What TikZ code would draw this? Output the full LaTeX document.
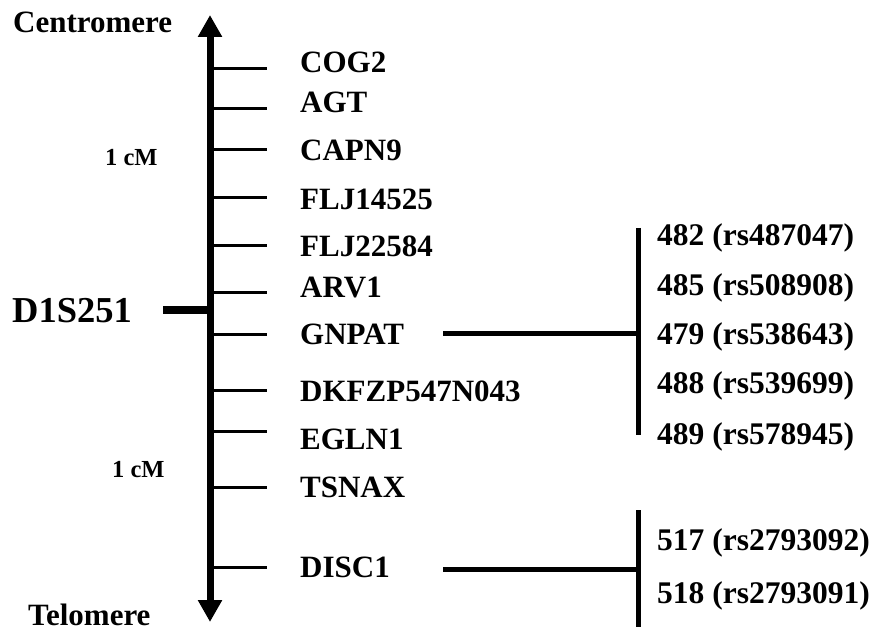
\documentclass[tikz,border=0pt]{standalone}
\usepackage{fontspec}
\setmainfont{Liberation Serif}
\usetikzlibrary{arrows.meta}
\begin{document}
\begin{tikzpicture}[x=1pt,y=-1pt,
  gene/.style={font=\fontsize{31}{31}\selectfont\bfseries, inner sep=0pt, anchor=west, text height=20.5pt, text depth=0pt},
  snp/.style={font=\fontsize{31.5}{31.5}\selectfont\bfseries, inner sep=0pt, anchor=west, text height=20.5pt, text depth=0pt},
  endlbl/.style={font=\fontsize{31}{31}\selectfont\bfseries, inner sep=0pt, anchor=west, text height=20.5pt, text depth=0pt},
  cmlbl/.style={font=\fontsize{24.5}{24.5}\selectfont\bfseries, inner sep=0pt, anchor=west, text height=16.5pt, text depth=0pt},
  marker/.style={font=\fontsize{36.5}{36.5}\selectfont\bfseries, inner sep=0pt, anchor=west, text height=24pt, text depth=0pt},
  axis/.style={line width=7pt, {Triangle[width=23pt,length=22pt]}-{Triangle[width=23pt,length=22pt]}},
  tickline/.style={line width=3pt},
  bar/.style={line width=5pt},
]
\useasboundingbox (0,0) rectangle (876,631);
% axis
\coordinate (top) at (210,15);
\coordinate (bot) at (210,622);
\draw[axis] (top) -- (bot);
% end labels
\node[endlbl] (cen) at (13,22) {Centromere};
\node[endlbl] (tel) at (28,615) {Telomere};
\node[cmlbl] (cm1) at (105,157) {1 cM};
\node[cmlbl] (cm2) at (112,469) {1 cM};
% marker
\node[marker] (d1s) at (12,311) {D1S251};
\coordinate (dt) at (210,310);
\draw[line width=7pt] (dt) -- (163,310);
% genes
\foreach \n/\ty/\ly/\txt in {
  g1/69/62.5/COG2, g2/109/102/AGT, g3/150/150/CAPN9, g4/198/199/FLJ14525,
  g5/246/246/FLJ22584, g6/293/287/ARV1, g7/334/334/GNPAT, g8/390/391/DKFZP547N043,
  g9/431/439/EGLN1, g10/487/487.5/TSNAX, g11/567/567.5/DISC1}{
  \coordinate (\n t) at (210,\ty);
  \draw[tickline] (\n t) -- ++(57,0);
  \node[gene] (\n) at (300,\ly) {\txt};
}
% GNPAT SNPs
\coordinate (h1a) at (443,333);
\coordinate (h1b) at (638,333);
\coordinate (v1a) at (638,228);
\coordinate (v1b) at (638,435);
\draw[bar] (h1a) -- (h1b);
\draw[bar] (v1a) -- (v1b);
\node[snp] (s1) at (657,235) {482 (rs487047)};
\node[snp] (s2) at (657,285) {485 (rs508908)};
\node[snp] (s3) at (657,334) {479 (rs538643)};
\node[snp] (s4) at (657,383) {488 (rs539699)};
\node[snp] (s5) at (657,434) {489 (rs578945)};
% DISC1 SNPs
\coordinate (h2a) at (443,569);
\coordinate (h2b) at (638,569);
\coordinate (v2a) at (638,510);
\coordinate (v2b) at (638,627);
\draw[bar] (h2a) -- (h2b);
\draw[bar] (v2a) -- (v2b);
\node[snp] (s6) at (657,540) {517 (rs2793092)};
\node[snp] (s7) at (657,593) {518 (rs2793091)};
\end{tikzpicture}
\end{document}
